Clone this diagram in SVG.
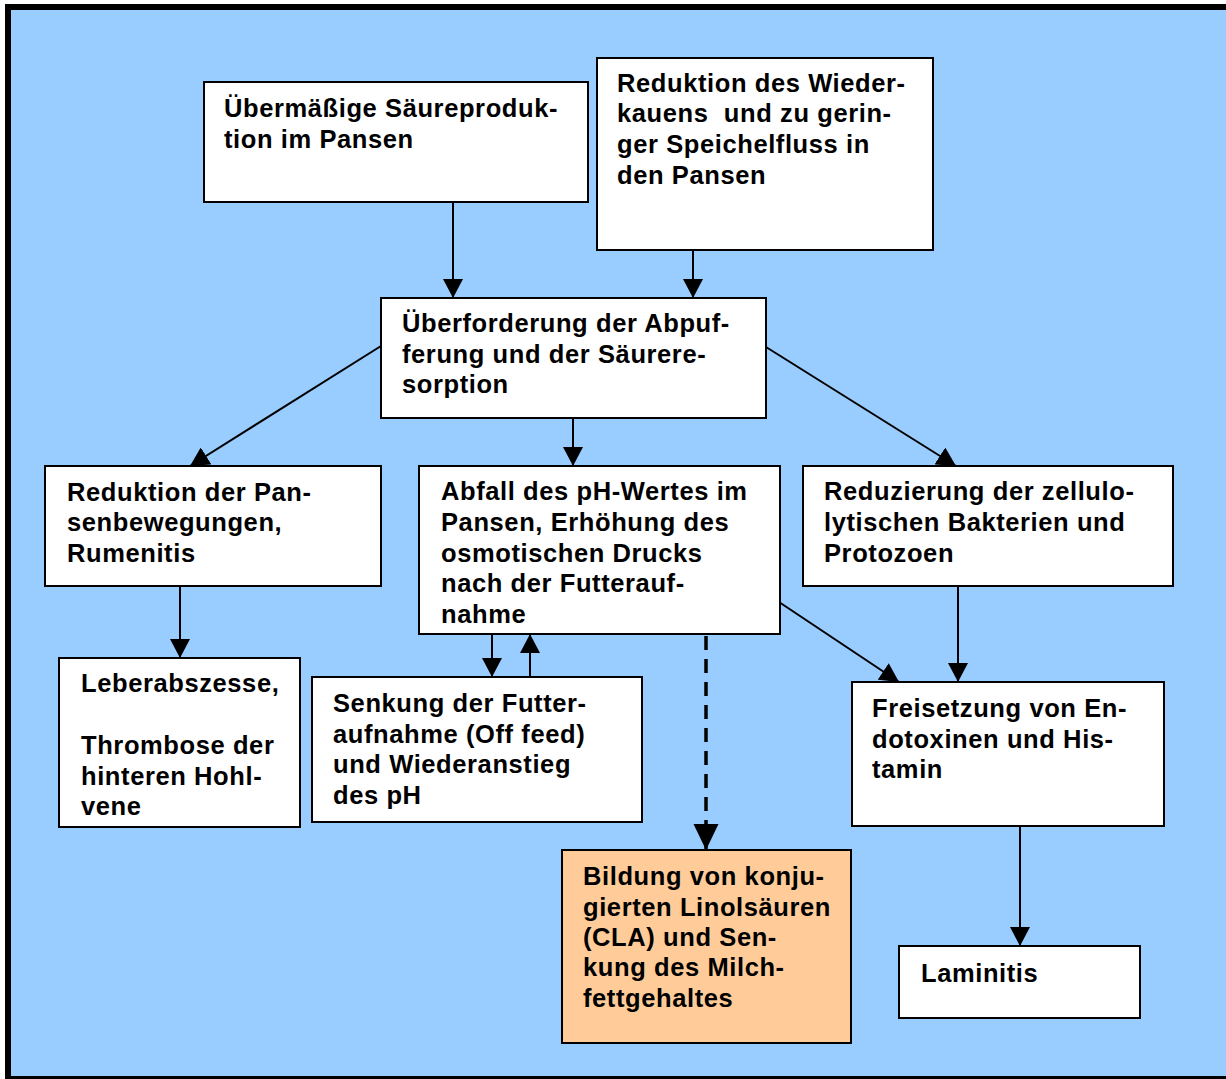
<svg xmlns="http://www.w3.org/2000/svg" width="1226" height="1079" viewBox="0 0 1226 1079">
<style>
.box{fill:#fff;stroke:#000;stroke-width:2}
.orange{fill:#FFCC99;stroke:#000;stroke-width:2}
.t{font-family:"Liberation Sans",Arial,sans-serif;font-weight:bold;font-size:25.5px;letter-spacing:0.6px;fill:#000;white-space:pre}
.c{stroke:#000;stroke-width:2;fill:none;marker-end:url(#ah)}
.d{stroke:#000;stroke-width:3.5;fill:none;stroke-dasharray:14 9;marker-end:url(#ahd)}
</style>
<defs>
<marker id="ah" markerUnits="userSpaceOnUse" markerWidth="20" markerHeight="20" refX="19" refY="10" orient="auto">
<path d="M0,0 L19,10 L0,20 z" fill="#000"/>
</marker>
<marker id="ahd" markerUnits="userSpaceOnUse" markerWidth="26" markerHeight="26" refX="26" refY="12.5" orient="auto">
<path d="M0,0 L26,12.5 L0,25 z" fill="#000"/>
</marker>
</defs>
<rect x="8" y="7" width="1230" height="1072" fill="#99CCFF" stroke="#000" stroke-width="6"/>
<g id="connectors">
<line class="c" x1="453" y1="202" x2="453" y2="298"/>
<line class="c" x1="693" y1="250" x2="693" y2="298"/>
<line class="c" x1="573" y1="418" x2="573" y2="466"/>
<line class="c" x1="381" y1="346" x2="190" y2="466"/>
<line class="c" x1="766" y1="347" x2="956" y2="466"/>
<line class="c" x1="180" y1="586" x2="180" y2="658"/>
<line class="c" x1="492" y1="634" x2="492" y2="677"/>
<line class="c" x1="530" y1="677" x2="530" y2="634"/>
<line class="d" x1="706" y1="636" x2="706" y2="850"/>
<line class="c" x1="776" y1="600" x2="899" y2="682"/>
<line class="c" x1="958" y1="586" x2="958" y2="682"/>
<line class="c" x1="1020" y1="826" x2="1020" y2="946"/>
</g>
<g id="n1">
<rect class="box" x="204" y="82" width="384" height="120"/>
<text class="t" x="224" y="117">Übermäßige Säureproduk-</text>
<text class="t" x="224" y="148">tion im Pansen</text>
</g>
<g id="n2">
<rect class="box" x="597" y="58" width="336" height="192"/>
<text class="t" x="617" y="92">Reduktion des Wieder-</text>
<text class="t" x="617" y="122">kauens  und zu gerin-</text>
<text class="t" x="617" y="153">ger Speichelfluss in</text>
<text class="t" x="617" y="184">den Pansen</text>
</g>
<g id="n3">
<rect class="box" x="381" y="298" width="385" height="120"/>
<text class="t" x="402" y="332">Überforderung der Abpuf-</text>
<text class="t" x="402" y="363">ferung und der Säurere-</text>
<text class="t" x="402" y="393">sorption</text>
</g>
<g id="n4">
<rect class="box" x="45" y="466" width="336" height="120"/>
<text class="t" x="67" y="501">Reduktion der Pan-</text>
<text class="t" x="67" y="531">senbewegungen,</text>
<text class="t" x="67" y="562">Rumenitis</text>
</g>
<g id="n5">
<rect class="box" x="419" y="466" width="361" height="168"/>
<text class="t" x="441" y="500">Abfall des pH-Wertes im</text>
<text class="t" x="441" y="531">Pansen, Erhöhung des</text>
<text class="t" x="441" y="562">osmotischen Drucks</text>
<text class="t" x="441" y="592">nach der Futterauf-</text>
<text class="t" x="441" y="623">nahme</text>
</g>
<g id="n6">
<rect class="box" x="803" y="466" width="370" height="120"/>
<text class="t" x="824" y="500">Reduzierung der zellulo-</text>
<text class="t" x="824" y="531">lytischen Bakterien und</text>
<text class="t" x="824" y="562">Protozoen</text>
</g>
<g id="n7">
<rect class="box" x="59" y="658" width="241" height="169"/>
<text class="t" x="81" y="692">Leberabszesse,</text>
<text class="t" x="81" y="754">Thrombose der</text>
<text class="t" x="81" y="785">hinteren Hohl-</text>
<text class="t" x="81" y="815">vene</text>
</g>
<g id="n8">
<rect class="box" x="312" y="677" width="330" height="145"/>
<text class="t" x="333" y="712">Senkung der Futter-</text>
<text class="t" x="333" y="743">aufnahme (Off feed)</text>
<text class="t" x="333" y="773">und Wiederanstieg</text>
<text class="t" x="333" y="804">des pH</text>
</g>
<g id="n9">
<rect class="orange" x="562" y="850" width="289" height="193"/>
<text class="t" x="583" y="885">Bildung von konju-</text>
<text class="t" x="583" y="916">gierten Linolsäuren</text>
<text class="t" x="583" y="946">(CLA) und Sen-</text>
<text class="t" x="583" y="976">kung des Milch-</text>
<text class="t" x="583" y="1007">fettgehaltes</text>
</g>
<g id="n10">
<rect class="box" x="852" y="682" width="312" height="144"/>
<text class="t" x="872" y="717">Freisetzung von En-</text>
<text class="t" x="872" y="748">dotoxinen und His-</text>
<text class="t" x="872" y="778">tamin</text>
</g>
<g id="n11">
<rect class="box" x="899" y="946" width="241" height="72"/>
<text class="t" x="921" y="982">Laminitis</text>
</g>
</svg>
